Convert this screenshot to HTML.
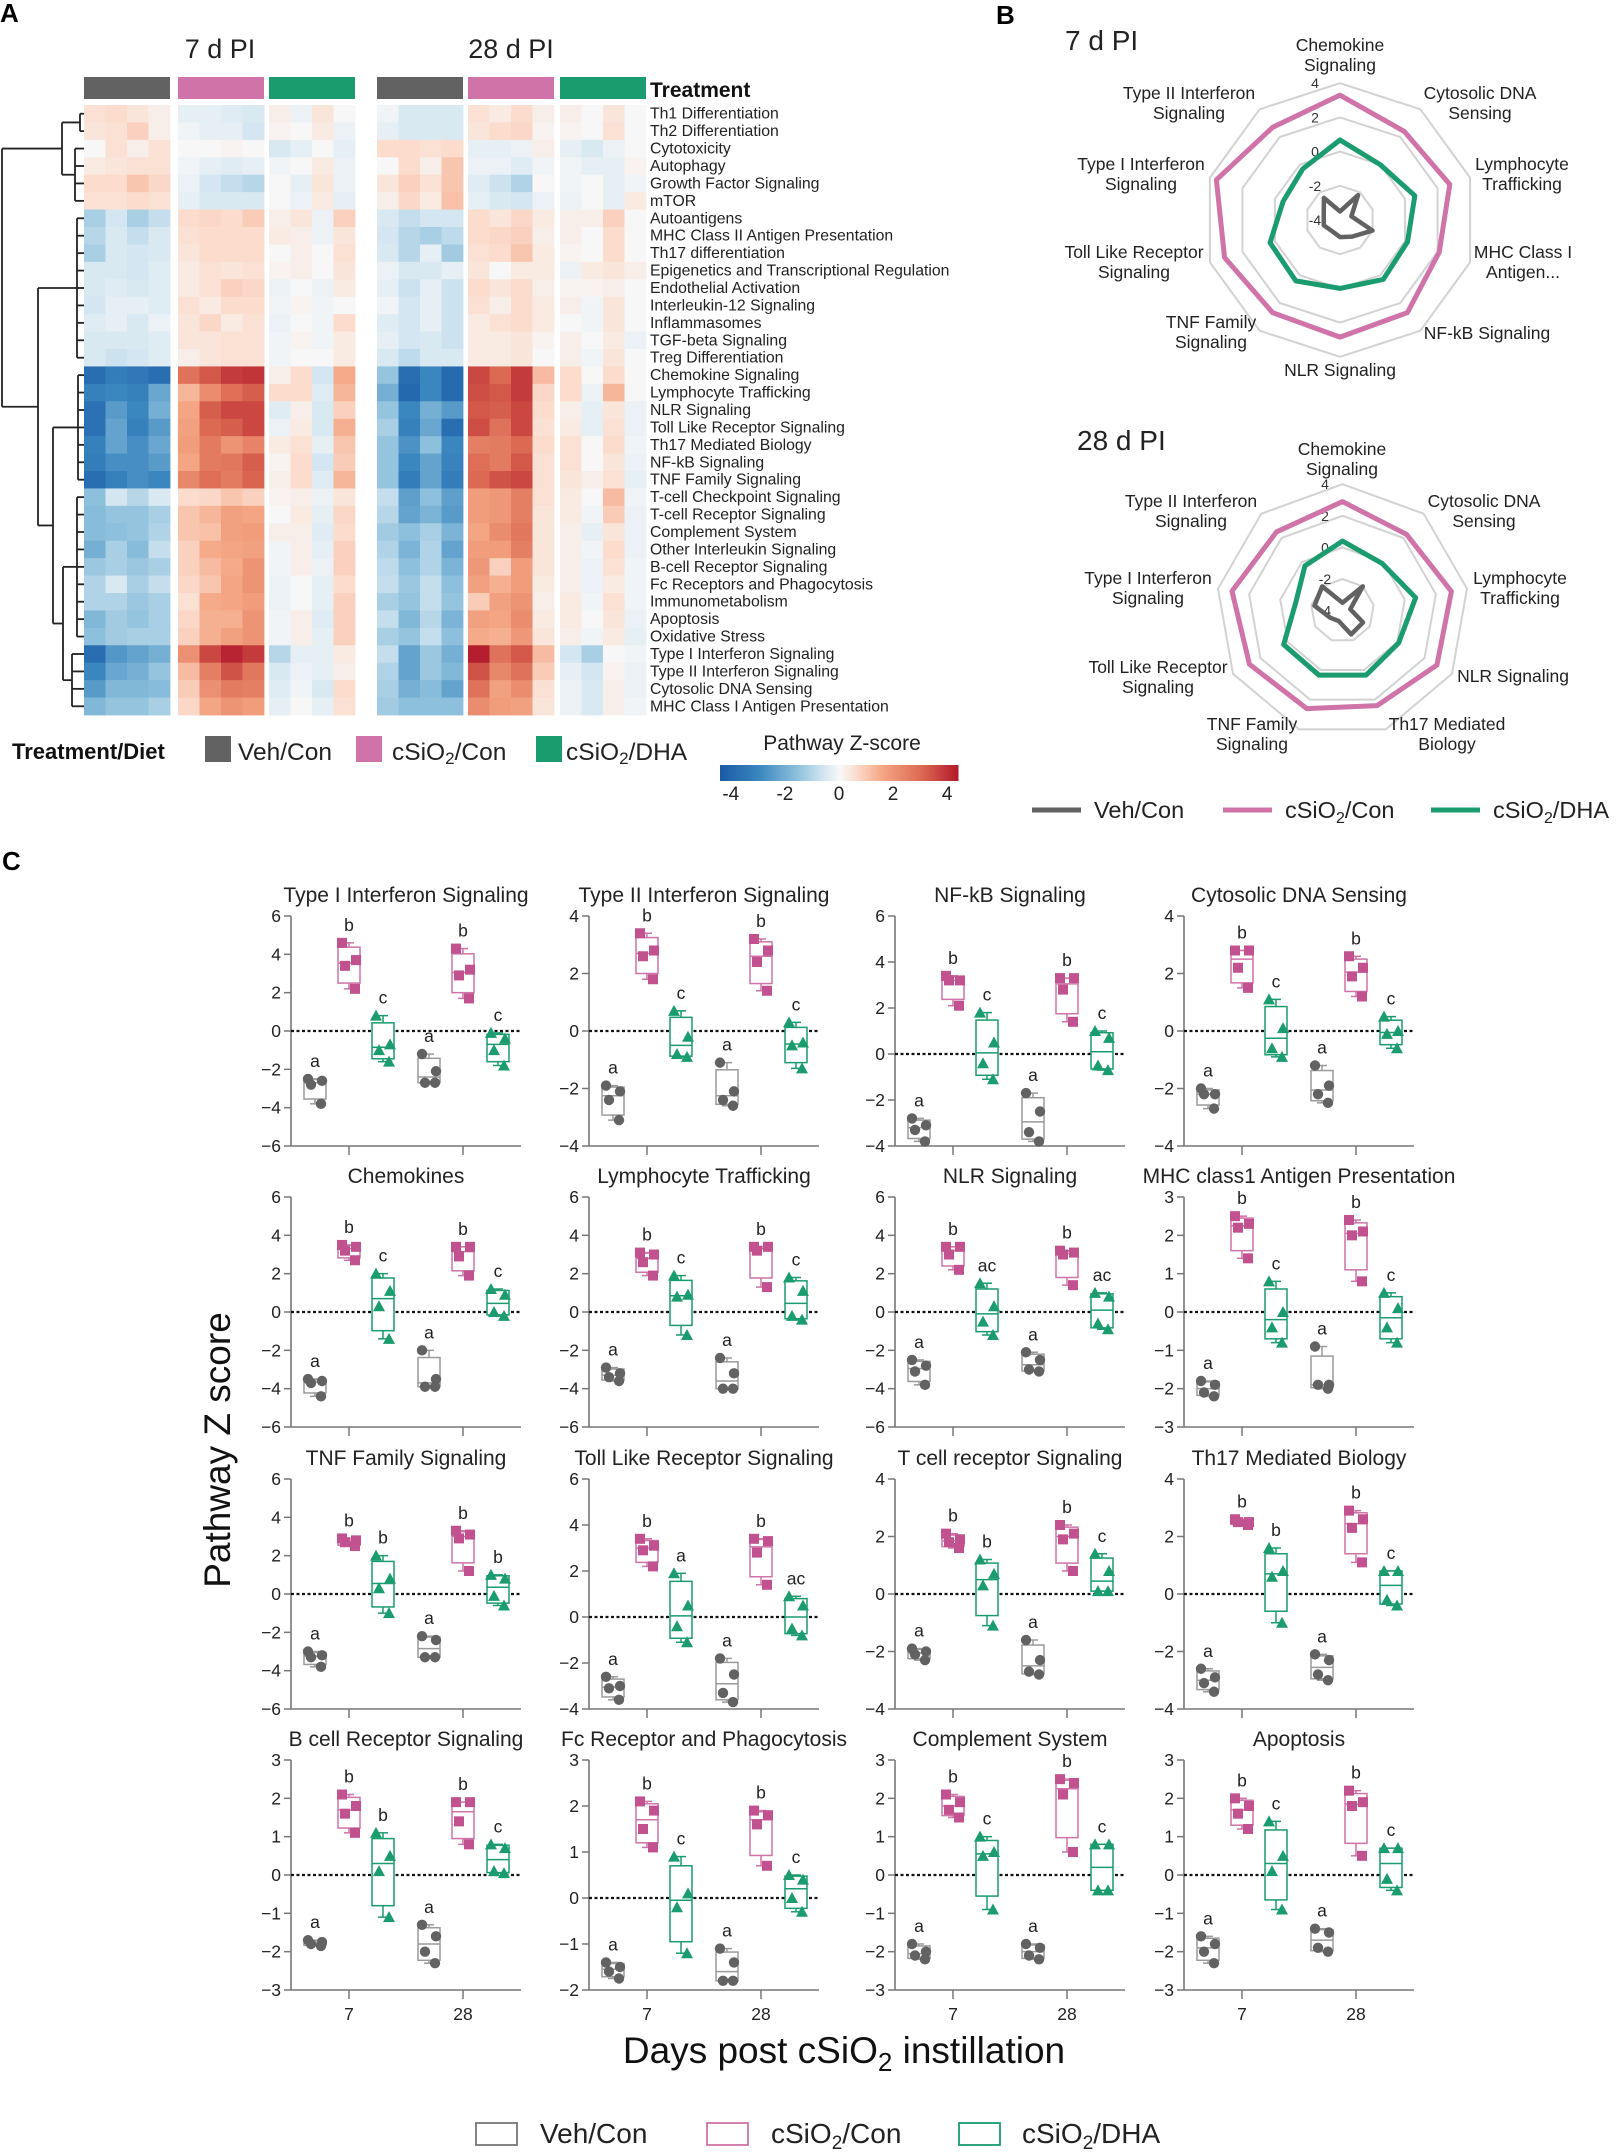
<!DOCTYPE html>
<html><head><meta charset="utf-8">
<style>
html,body{margin:0;padding:0;background:#fff;}
svg{display:block;font-family:"Liberation Sans",Arial,sans-serif;}
</style></head>
<body>
<svg id="fig" width="1621" height="2155" viewBox="0 0 1621 2155" xmlns="http://www.w3.org/2000/svg">
<text x="0" y="22" font-size="26" font-weight="bold">A</text>
<text x="996" y="24" font-size="26" font-weight="bold">B</text>
<text x="2" y="870" font-size="26" font-weight="bold">C</text>
<g id="heat"></g>
<g id="radar"></g>
<g id="boxes"></g>
</svg>
<script>
// ================= HEATMAP DATA =================
const pathways = ["Th1 Differentiation","Th2 Differentiation","Cytotoxicity","Autophagy","Growth Factor Signaling","mTOR","Autoantigens","MHC Class II Antigen Presentation","Th17 differentiation","Epigenetics and Transcriptional Regulation","Endothelial Activation","Interleukin-12 Signaling","Inflammasomes","TGF-beta Signaling","Treg Differentiation","Chemokine Signaling","Lymphocyte Trafficking","NLR Signaling","Toll Like Receptor Signaling","Th17 Mediated Biology","NF-kB Signaling","TNF Family Signaling","T-cell Checkpoint Signaling","T-cell Receptor Signaling","Complement System","Other Interleukin Signaling","B-cell Receptor Signaling","Fc Receptors and Phagocytosis","Immunometabolism","Apoptosis","Oxidative Stress","Type I Interferon Signaling","Type II Interferon Signaling","Cytosolic DNA Sensing","MHC Class I Antigen Presentation"];
const heatGroups = ["Veh/Con 7d","cSiO2/Con 7d","cSiO2/DHA 7d","Veh/Con 28d","cSiO2/Con 28d","cSiO2/DHA 28d"];
const zscores = [
[.5,.6,.4,.2, -.3,-.3,-.4,-.5, .2,-.2,.4,0, -.1,-.5,-.5,-.5, .5,.3,.6,.2, .2,0,.4,0],
[.4,.5,.8,.2, -.1,-.3,-.3,-.6, .1,0,.3,-.2, -.3,-.5,-.5,-.5, .4,.6,.7,.1, .1,0,.5,0],
[0,.5,.2,.5, 0,0,.1,0, -.5,-.3,0,-.3, .6,.6,.5,.6, -.3,-.3,-.2,.2, -.3,-.5,-.2,0],
[.3,.4,.5,.5, -.1,-.3,-.4,-.3, -.1,0,.3,-.2, 0,.6,.2,1, -.2,-.2,-.4,-.1, -.1,-.3,-.3,.1],
[.6,.6,1,.7, -.2,-.6,-.8,-1, 0,-.3,.4,-.2, .4,.8,.5,1, -.4,-.7,-1.1,0, -.1,0,-.3,-.1],
[.5,.5,.6,.5, -.3,-.5,-.5,-.5, 0,-.2,.3,-.3, .2,.7,.3,1.1, -.3,-.5,-.6,-.2, -.2,0,-.3,.3],
[-1.2,-.6,-1.2,-.8, .6,.7,.6,.9, .2,.4,-.2,.8, -.5,-.8,-.6,-.6, .6,.4,.7,.3, .2,.2,.8,0],
[-1,-.5,-.8,-.5, .5,.6,.6,.6, .3,.2,-.2,.4, -.6,-1,-1.2,-.9, .6,.7,.8,.2, .2,0,.6,0],
[-1.2,-.5,-.6,-.5, .4,.6,.6,.6, 0,.2,0,.5, -.5,-1,-.3,-1.3, .5,.6,1,.3, .1,0,.6,0],
[-.5,-.5,-.6,-.4, .3,.5,.4,.5, .1,.2,0,.4, -.2,-.5,-.5,-.3, .4,0,.3,.3, -.2,.3,.4,.2],
[-.5,-.4,-.5,-.4, .3,.5,.8,.7, -.2,0,-.2,.3, -.3,-.7,-.3,-.7, .6,.4,.6,.2, .1,.1,.2,0],
[-.6,-.3,-.3,-.4, .5,.3,.6,.6, -.1,.1,-.1,0, -.1,-.6,-.3,-.7, .5,.2,.6,.3, .2,-.1,.4,0],
[-.4,-.3,-.5,-.2, .4,.7,.3,.5, -.2,0,-.1,.6, -.4,-.6,-.3,-.7, .3,.5,.6,.3, 0,-.1,.4,0],
[-.5,-.5,-.5,-.4, .4,.4,.5,.5, -.1,.1,-.1,.3, -.3,-.6,-.5,-.7, .3,.3,.4,.1, .2,0,.3,-.2],
[-.5,-.7,-.6,-.4, .2,.4,.5,.5, -.1,0,0,.3, -.5,-.9,-.5,-.5, .3,.3,.4,0, .2,-.1,.4,0],
[-3.8,-3.3,-3.5,-3.8, 2.8,3.3,3.8,3.9, .2,.6,-.6,1.5, -1.5,-3.8,-3,-3.9, 3.6,3,3.8,1.2, .6,0,.6,0],
[-3.2,-3,-3.2,-2.2, 1.3,2.2,2.9,3.2, .6,.6,-.4,1.3, -2,-4,-3,-3.9, 3.5,3.3,3.8,.7, .6,-.2,1.3,0],
[-3.7,-2.5,-3,-2, 1.6,3.2,3.6,3.6, -.4,.2,-.5,.8, -1.5,-3,-2,-2.5, 3.3,3.2,3.6,.6, .2,-.3,.4,-.2],
[-3.7,-2.3,-3.2,-2.5, 1.7,3,3.2,3.6, -.2,.3,-.5,1.4, -1.2,-3.2,-2.2,-3.8, 3.5,2.8,3.6,.5, .3,-.3,.5,-.2],
[-3.2,-2.3,-2.8,-2.2, 1.8,2.6,2,2.4, .3,.5,-.3,1, -1.5,-2.7,-1.6,-3, 2.5,2.6,3,.6, .5,0,.6,-.1],
[-3.3,-2.8,-2.8,-2.5, 1.6,2.6,2.7,3.2, .1,.6,-.6,.9, -1.5,-3,-2.3,-3.1, 2.9,2.6,3.3,.5, .5,0,.4,-.2],
[-3.8,-3.2,-2.8,-3, 2.3,2.9,2.6,3.1, .2,.6,-.4,1.3, -1.5,-3.3,-2.3,-3.3, 3,3.4,3.6,.5, .4,.2,.5,-.3],
[-1.6,-.6,-1,-.5, .6,.7,1,.8, .1,.2,-.2,.4, -.8,-2.4,-1.6,-2.4, 1.8,1.9,2.5,.5, .3,0,1.2,-.1],
[-1.7,-1.5,-1.5,-1.2, 1,1.3,1.7,1.6, 0,.3,-.3,.7, -1,-2.3,-1.9,-2.5, 1.8,1.9,2.5,.4, .3,-.1,.9,-.2],
[-1.7,-1.6,-1.5,-1.1, 1,1.1,1.7,1.8, .2,.2,-.4,.6, -1.3,-1.6,-1.2,-1.9, 1.6,2.2,2.7,.4, .2,-.3,.4,-.2],
[-2,-1.2,-1.7,-.8, .8,1.5,1.6,1.7, -.1,.2,-.3,.8, -1.1,-1.9,-1.1,-2.3, 1.8,1.8,2.5,.4, .2,-.1,.6,-.2],
[-1.4,-1.2,-1.4,-1.2, .8,1.2,1.5,2, -.1,.2,-.2,.8, -.9,-1.6,-1.1,-1.9, 1.9,.8,1.8,.4, .2,-.2,.5,-.1],
[-1.1,-.5,-1.2,-.8, .7,1,1.6,2, -.2,0,-.3,.6, -.8,-1.4,-.8,-1.6, 1.7,1.4,1.8,.3, .2,-.2,.3,-.1],
[-1.1,-1.1,-1.4,-1.2, .5,1.5,1.6,1.8, -.2,0,-.3,.8, -1.2,-1.5,-.8,-1.5, .9,1.7,2,.2, .3,-.1,.5,-.1],
[-1.8,-1.3,-1.5,-1.2, .7,1.4,1.4,2, -.1,.2,-.4,.8, -.8,-1.8,-1,-1.9, 1.7,1.6,2.2,.3, .3,0,.4,-.2],
[-1.6,-1.3,-1.2,-1.2, .8,1.4,1.7,2, -.1,.2,-.3,.8, -1.2,-1.5,-.8,-1.6, 1.5,1.4,1.9,.4, .2,-.1,.3,-.3],
[-3.8,-2.6,-2.3,-2, 2.1,3.6,4.2,3.8, -1,-.3,-.3,.3, -.8,-2.3,-1.4,-2, 4.3,2.8,3.3,1.2, -.6,-1.2,0,-.1],
[-3,-2.2,-2,-1.5, 1.2,2.5,3.4,2.7, -.5,-.2,-.3,.2, -1.1,-2.3,-1.4,-1.8, 3.4,2.3,2.8,.9, -.3,-.6,.1,-.2],
[-2.5,-1.8,-1.8,-1.7, .9,2.1,2.6,2.5, -.4,-.1,-.5,.6, -1.2,-2,-1.7,-2.3, 2.8,1.7,2.2,.5, -.2,-.5,.2,-.2],
[-1.8,-1.5,-1.5,-1.2, .7,1.6,2,1.8, -.3,0,-.3,.5, -1.3,-1.6,-1.6,-1.6, 2.2,1.8,1.7,.4, -.2,-.5,.2,-.1]
];
const colorTicks = [-4,-2,0,2,4];

// ================= RADAR DATA =================
const radar7Axes = ["Chemokine\nSignaling","Cytosolic DNA\nSensing","Lymphocyte\nTrafficking","MHC Class I\nAntigen...","NF-kB Signaling","NLR Signaling","TNF Family\nSignaling","Toll Like Receptor\nSignaling","Type I Interferon\nSignaling","Type II Interferon\nSignaling"];
const radar7Veh = [-3.5,-2.2,-3.3,-2.0,-2.8,-3.0,-3.2,-3.0,-3.0,-2.4];
const radar7Con = [3.3,2.4,2.75,2.1,2.7,2.85,2.7,3.1,3.6,2.7];
const radar7Dha = [0.68,0.0,0.6,0.15,0.3,0.0,0.4,0.3,-0.5,-0.3];
const radar28Axes = ["Chemokine\nSignaling","Cytosolic DNA\nSensing","Lymphocyte\nTrafficking","NLR Signaling","Th17 Mediated\nBiology","TNF Family\nSignaling","Toll Like Receptor\nSignaling","Type I Interferon\nSignaling","Type II Interferon\nSignaling"];
const radar28Veh = [-3.5,-2.0,-3.5,-2.5,-2.4,-3.3,-3.1,-2.2,-2.0];
const radar28Con = [2.9,2.3,3.0,2.9,2.4,2.6,2.8,3.1,2.5];
const radar28Dha = [0.4,-0.1,0.7,0.1,0.35,0.35,0.3,-1.0,-0.3];
const radarTicks = [4,2,0,-2,-4];

// ================= BOX PLOT DATA =================
const panelTitles = ["Type I Interferon Signaling","Type II Interferon Signaling","NF-kB Signaling","Cytosolic DNA Sensing","Chemokines","Lymphocyte Trafficking","NLR Signaling","MHC class1 Antigen Presentation","TNF Family Signaling","Toll Like Receptor Signaling","T cell receptor Signaling","Th17 Mediated Biology","B cell Receptor Signaling","Fc Receptor and Phagocytosis","Complement System","Apoptosis"];
const panelYMin = [-6,-4,-4,-4, -6,-6,-6,-3, -6,-4,-4,-4, -3,-2,-3,-3];
const panelYMax = [6,4,6,4, 6,6,6,3, 6,6,4,4, 3,3,3,3];
const panelYStep = [2,2,2,2, 2,2,2,1, 2,2,2,2, 1,1,1,1];
const groupNames = ["Veh/Con 7","cSiO2/Con 7","cSiO2/DHA 7","Veh/Con 28","cSiO2/Con 28","cSiO2/DHA 28"];
const panelLetters = [
["a","b","c","a","b","c"],["a","b","c","a","b","c"],["a","b","c","a","b","c"],["a","b","c","a","b","c"],
["a","b","c","a","b","c"],["a","b","c","a","b","c"],["a","b","ac","a","b","ac"],["a","b","c","a","b","c"],
["a","b","b","a","b","b"],["a","b","a","a","b","ac"],["a","b","b","a","b","c"],["a","b","b","a","b","c"],
["a","b","b","a","b","c"],["a","b","c","a","b","c"],["a","b","c","a","b","c"],["a","b","c","a","b","c"]];
const panelValues = [
[[-2.5,-2.6,-2.8,-3.8],[4.6,3.7,3.4,2.2],[0.8,-0.7,-1,-1.6],[-1.2,-2.1,-2.7,-2.7],[4.3,3.2,2.9,1.7],[-0.1,-0.4,-1,-1.8]],
[[-1.9,-2.1,-2.4,-3.1],[3.4,2.8,2.6,1.8],[0.7,-0.2,-0.8,-0.9],[-1.1,-2.1,-2.4,-2.6],[3.2,2.8,2.4,1.4],[0.3,-0.4,-0.5,-1.3]],
[[-2.8,-3.1,-3.3,-3.8],[3.4,3.2,3.2,2.1],[1.8,0.5,-0.4,-1.1],[-1.7,-2.5,-3.4,-3.8],[3.3,3.3,2.8,1.4],[1,0.7,-0.5,-0.7]],
[[-2,-2.2,-2.2,-2.7],[2.8,2.8,2.2,1.5],[1.1,0.1,-0.6,-0.9],[-1.2,-1.9,-2.2,-2.5],[2.6,2.2,1.9,1.2],[0.5,0,-0.1,-0.6]],
[[-3.5,-3.6,-3.7,-4.4],[3.5,3.4,3.2,2.7],[2,1.1,0.3,-1.4],[-2,-3.5,-3.9,-3.9],[3.4,3.4,2.9,1.9],[1.2,0.9,0,-0.2]],
[[-2.9,-3.2,-3.4,-3.6],[3.1,3,2.6,1.9],[1.9,0.9,0.8,-1.2],[-2.4,-3.2,-4,-4],[3.4,3.4,3.2,1.3],[1.8,1.1,-0.2,-0.4]],
[[-2.5,-2.8,-3.1,-3.8],[3.4,3.4,3,2.2],[1.5,0.3,-0.5,-1.2],[-2.1,-2.5,-3,-3.1],[3.2,3.1,3,1.4],[1,0.8,-0.6,-0.9]],
[[-1.8,-1.9,-2.1,-2.2],[2.5,2.3,2.2,1.4],[0.8,0,-0.4,-0.8],[-0.9,-1.9,-1.9,-2],[2.4,2.1,2,0.8],[0.5,0.1,-0.4,-0.8]],
[[-3,-3.2,-3.3,-3.8],[2.9,2.8,2.7,2.5],[2,0.8,0.3,-1],[-2.2,-2.4,-3.3,-3.3],[3.3,3.1,2.9,1.2],[1,0.8,-0.1,-0.6]],
[[-2.6,-3,-3.1,-3.6],[3.4,3.1,2.9,2.2],[1.9,0.5,-0.4,-1.1],[-1.8,-2.5,-3.3,-3.7],[3.4,3.3,2.8,1.4],[0.9,0.5,-0.5,-0.8]],
[[-1.9,-2,-2.1,-2.3],[2.1,1.9,1.8,1.6],[1.2,0.7,0.3,-1.1],[-1.6,-2.3,-2.7,-2.8],[2.4,2.1,1.9,0.8],[1.4,0.8,0.1,0.1]],
[[-2.6,-2.9,-3.1,-3.4],[2.6,2.5,2.5,2.4],[1.6,0.8,0.6,-1],[-2.1,-2.3,-2.8,-3],[2.9,2.6,2.3,1.1],[0.8,0.8,-0.2,-0.4]],
[[-1.7,-1.75,-1.8,-1.85],[2.1,1.8,1.6,1.1],[1.1,0.5,0.1,-1.1],[-1.3,-1.6,-2,-2.3],[1.9,1.9,1.4,0.8],[0.8,0.7,0.1,0.05]],
[[-1.4,-1.5,-1.6,-1.75],[2.1,1.9,1.5,1.1],[0.9,0.1,-0.2,-1.2],[-1.1,-1.4,-1.8,-1.8],[1.9,1.8,1.6,0.7],[0.5,0.4,0,-0.3]],
[[-1.8,-2,-2.1,-2.2],[2.1,1.9,1.7,1.5],[1,0.6,0.5,-0.9],[-1.8,-1.9,-2.1,-2.2],[2.5,2.4,2.1,0.6],[0.8,0.8,-0.4,-0.4]],
[[-1.6,-1.8,-2,-2.3],[2,1.8,1.6,1.2],[1.4,0.5,0.1,-0.9],[-1.4,-1.5,-1.9,-2],[2.2,1.9,1.8,0.5],[0.7,0.7,-0.1,-0.4]]
];
const xTickLabels = ["7","28"];

// ================= HELPERS =================
const NS = "http://www.w3.org/2000/svg";
function mk(parent, tag, attrs, text){
  const e = document.createElementNS(NS, tag);
  for (const k in attrs) e.setAttribute(k, attrs[k]);
  if (text !== undefined) e.textContent = text;
  parent.appendChild(e);
  return e;
}
function lerpColor(a,b,t){
  const pa=[parseInt(a.slice(1,3),16),parseInt(a.slice(3,5),16),parseInt(a.slice(5,7),16)];
  const pb=[parseInt(b.slice(1,3),16),parseInt(b.slice(3,5),16),parseInt(b.slice(5,7),16)];
  return "rgb("+pa.map((v,i)=>Math.round(v+(pb[i]-v)*t)).join(",")+")";
}
const cStops = [[-4.4,"#1b5ca6"],[-3,"#3a86bf"],[-1.6,"#8dc0dc"],[-0.6,"#d3e6f1"],[0,"#f7f7f7"],[0.6,"#fbdccd"],[1.6,"#f4a583"],[3,"#dc6a53"],[4.4,"#b2182b"]];
function zColor(v){
  if (v<=cStops[0][0]) return cStops[0][1];
  for (let i=1;i<cStops.length;i++){
    if (v<=cStops[i][0]){const t=(v-cStops[i-1][0])/(cStops[i][0]-cStops[i-1][0]);return lerpColor(cStops[i-1][1],cStops[i][1],t);}
  }
  return cStops[cStops.length-1][1];
}
const GRAY="#626262", PINK="#cf73a8", GREEN="#1a9c6e";
const PINKD="#c2528f";

// ================= HEATMAP =================
(function(){
  const g = document.getElementById("heat");
  const groupX = [84,178,269,377,468,560];
  const blockW = 86, rowTop = 105, rowH = (715-105)/pathways.length;
  const barCols = [GRAY,PINK,GREEN,GRAY,PINK,GREEN];
  const t1 = mk(g,"text",{x:220,y:58,"font-size":27,"text-anchor":"middle",fill:"#222"},"7 d PI");
  
  
  const t2 = mk(g,"text",{x:511,y:58,"font-size":27,"text-anchor":"middle",fill:"#222"},"28 d PI");
  
  
  heatGroups.forEach((name,gi)=>{
    const r = mk(g,"rect",{x:groupX[gi],y:77,width:blockW,height:22,fill:barCols[gi]});
    
    
  });
  const tt = mk(g,"text",{x:650,y:97,"font-size":21,"font-weight":"bold",fill:"#111"},"Treatment");
  
  
  const cw = blockW/4;
  zscores.forEach((row,ri)=>{
    row.forEach((v,ci)=>{
      const gi = Math.floor(ci/4), k = ci%4;
      const c = mk(g,"rect",{x:groupX[gi]+k*cw,y:rowTop+ri*rowH,width:cw+0.4,height:rowH+0.4,fill:zColor(v)});
      
      
    });
    const l = mk(g,"text",{x:650,y:rowTop+ri*rowH+rowH/2+5,"font-size":15.8,fill:"#222"},pathways[ri]);
    
    
  });
  const rc = i => rowTop + i*rowH + rowH/2;
  const dg = mk(g,"g",{stroke:"#222","stroke-width":1.8,fill:"none"});
  
  
  function leafGroup(a,b,x){
    for(let i=a;i<=b;i++) mk(dg,"line",{x1:x,y1:rc(i),x2:84,y2:rc(i)});
    mk(dg,"line",{x1:x,y1:rc(a),x2:x,y2:rc(b)});
    return {x:x,y:(rc(a)+rc(b))/2};
  }
  function join(n1,n2,x){
    mk(dg,"line",{x1:x,y1:n1.y,x2:n1.x,y2:n1.y});
    mk(dg,"line",{x1:x,y1:n2.y,x2:n2.x,y2:n2.y});
    mk(dg,"line",{x1:x,y1:n1.y,x2:x,y2:n2.y});
    return {x:x,y:(n1.y+n2.y)/2};
  }
  const A = join(leafGroup(0,1,80),leafGroup(2,5,75),62);
  const B1 = leafGroup(6,14,77);
  const C1 = leafGroup(15,21,78);
  const C2 = join(leafGroup(22,30,77),leafGroup(31,34,72),63);
  const C = join(C1,C2,53);
  const B = join(B1,C,38);
  join(A,B,2);
  const lg = mk(g,"g",{});
  
  
  mk(lg,"text",{x:12,y:759,"font-size":22,"font-weight":"bold",fill:"#111"},"Treatment/Diet");
  const items=[[205,GRAY,238,"Veh/Con"],[356,PINK,392,"cSiO"],[536,GREEN,566,"cSiO"]];
  items.forEach((it,i)=>{
    const r=mk(lg,"rect",{x:it[0],y:736,width:26,height:26,fill:it[1]});
    
    
    const t=mk(lg,"text",{x:it[2],y:760,"font-size":24.5,fill:"#222"});
    
    
    if(i===0){t.textContent="Veh/Con";}
    else{
      t.appendChild(document.createTextNode("cSiO"));
      mk(t,"tspan",{"font-size":17,dy:4},"2");
      mk(t,"tspan",{dy:-4},i===1?"/Con":"/DHA");
    }
  });
  const cb = mk(g,"g",{});
  
  
  mk(cb,"text",{x:842,y:750,"font-size":21,"text-anchor":"middle",fill:"#222"},"Pathway Z-score");
  const x0=720,x1=958,vmin=-4.4,vmax=4.4;
  const cx=v=>x0+(v-vmin)/(vmax-vmin)*(x1-x0);
  for(let i=0;i<120;i++){
    const v=vmin+(vmax-vmin)*i/120;
    mk(cb,"rect",{x:cx(v),y:765,width:(x1-x0)/120+0.5,height:16,fill:zColor(v)});
  }
  colorTicks.forEach(v=>{
    const t=mk(cb,"text",{x:cx(v),y:800,"font-size":19,"text-anchor":"middle",fill:"#222"},String(v));
    
    
  });
})();

// ================= RADAR =================
(function(){
  const g = document.getElementById("radar");
  function drawRadar(cfg){
    const rg = mk(g,"g",{});
    
    
    const n = cfg.axes.length;
    const r = v => (v+4)*cfg.unit;
    const pt = (i,v) => {const a=i*2*Math.PI/n; return [cfg.cx+r(v)*Math.sin(a), cfg.cy-r(v)*Math.cos(a)];};
    [4,2,0,-2].forEach(v=>{
      const p=[];for(let i=0;i<n;i++)p.push(pt(i,v).join(","));
      const ring=mk(rg,"polygon",{points:p.join(" "),fill:"none",stroke:"#d2d2d2","stroke-width":2});
      
      
    });
    radarTicks.forEach(v=>{
      const t=mk(rg,"text",{x:cfg.tickX,y:cfg.cy-r(v)+5,"font-size":14,"text-anchor":"middle",fill:"#333"},String(v));
      
      
    });
    const series=[[cfg.veh,GRAY,4.5,"radar-series-veh"],[cfg.dha,GREEN,5,"radar-series-dha"],[cfg.con,PINK,5,"radar-series-con"]];
    series.forEach(s=>{
      const p=s[0].map((v,i)=>pt(i,v).join(","));
      const pl=mk(rg,"polygon",{points:p.join(" "),fill:"none",stroke:s[1],"stroke-width":s[2],"stroke-linejoin":"round"});
      
      
    });
    cfg.axes.forEach((lab,i)=>{
      const pos=cfg.labelPos[i];
      const t=mk(rg,"text",{x:pos[0],y:pos[1],"font-size":17.5,"text-anchor":"middle",fill:"#222"});
      
      
      lab.split("\n").forEach((ln,k)=>{mk(t,"tspan",{x:pos[0],dy:k===0?0:20},ln);});
    });
    const tl=mk(rg,"text",{x:cfg.titleX,y:cfg.titleY,"font-size":28,fill:"#222"},cfg.title);
    
    
  }
  drawRadar({name:"radar-7d",axes:radar7Axes,veh:radar7Veh,con:radar7Con,dha:radar7Dha,cx:1340,cy:220,unit:17.1,tickX:1315,
    title:"7 d PI",titleX:1065,titleY:50,
    labelPos:[[1340,51],[1480,99],[1522,170],[1523,258],[1487,339],[1340,376],[1211,328],[1134,258],[1141,170],[1189,99]]});
  drawRadar({name:"radar-28d",axes:radar28Axes,veh:radar28Veh,con:radar28Con,dha:radar28Dha,cx:1342.5,cy:610.6,unit:15.8,tickX:1325,
    title:"28 d PI",titleX:1077,titleY:450,
    labelPos:[[1342,455],[1484,507],[1520,584],[1513,682],[1447,730],[1252,730],[1158,673],[1148,584],[1191,507]]});
  const lg=mk(g,"g",{});
  
  
  const it=[[1032,GRAY,1094,0],[1223,PINK,1285,1],[1431,GREEN,1493,2]];
  it.forEach(x=>{
    mk(lg,"line",{x1:x[0],y1:810,x2:x[0]+49,y2:810,stroke:x[1],"stroke-width":5});
    const t=mk(lg,"text",{x:x[2],y:818,"font-size":23.5,fill:"#222"});
    
    
    if(x[3]===0)t.textContent="Veh/Con";
    else{t.appendChild(document.createTextNode("cSiO"));mk(t,"tspan",{"font-size":16,dy:5},"2");mk(t,"tspan",{dy:-5},x[3]===1?"/Con":"/DHA");}
  });
})();

// ================= BOX PLOTS =================
(function(){
  const g = document.getElementById("boxes");
  const axisX = [291,589,895,1184];
  const rowTopY = [916,1197,1479,1760];
  const plotH = 230, plotW = 230;
  const groupOff = [24,58,92,138,172,207];
  const jitter = [-7,7,-4,6];
  const boxCols = ["#9a9a9a",PINK,GREEN,"#9a9a9a",PINK,GREEN];
  const ptCols = [GRAY,PINKD,GREEN,GRAY,PINKD,GREEN];
  function quart(arr,q){
    const s=[...arr].sort((a,b)=>a-b);const n=s.length;
    const pos=q*(n+1)-1;
    if(pos<=0)return s[0]; if(pos>=n-1)return s[n-1];
    const lo=Math.floor(pos);return s[lo]+(s[lo+1]-s[lo])*(pos-lo);
  }
  panelTitles.forEach((title,pi)=>{
    const col=pi%4,row=Math.floor(pi/4);
    const ax=axisX[col],top=rowTopY[row],bot=top+plotH;
    const ymin=panelYMin[pi],ymax=panelYMax[pi];
    const y=v=>bot-(v-ymin)/(ymax-ymin)*plotH;
    const pg=mk(g,"g",{});
    
    
    const tt=mk(pg,"text",{x:ax+115,y:top-14,"font-size":21,"text-anchor":"middle",fill:"#222"},title);
    
    
    mk(pg,"line",{x1:ax,y1:top,x2:ax,y2:bot,stroke:"#777","stroke-width":1.6});
    mk(pg,"line",{x1:ax,y1:bot,x2:ax+plotW,y2:bot,stroke:"#777","stroke-width":1.6});
    for(let v=ymin;v<=ymax+1e-9;v+=panelYStep[pi]){
      mk(pg,"line",{x1:ax-7,y1:y(v),x2:ax,y2:y(v),stroke:"#777","stroke-width":1.5});
      const t=mk(pg,"text",{x:ax-10,y:y(v)+6,"font-size":17.5,"text-anchor":"end",fill:"#222"},v<0?"\u2212"+Math.abs(v):String(v));
      
      
    }
    [58,172].forEach((o,k)=>{
      mk(pg,"line",{x1:ax+o,y1:bot,x2:ax+o,y2:bot+9,stroke:"#777","stroke-width":1.5});
      if(row===3){
        const t=mk(pg,"text",{x:ax+o,y:2020,"font-size":17.5,"text-anchor":"middle",fill:"#222"},xTickLabels[k]);
        
        
      }
    });
    const zl=mk(pg,"line",{x1:ax,y1:y(0),x2:ax+plotW,y2:y(0),stroke:"#111","stroke-width":2.2,"stroke-dasharray":"3,2.5"});
    
    
    panelValues[pi].forEach((vals,gi)=>{
      const gx=ax+groupOff[gi];
      const mn=Math.min(...vals),mx=Math.max(...vals);
      const q1=quart(vals,0.25),q3=quart(vals,0.75),md=quart(vals,0.5);
      const bg=mk(pg,"g",{stroke:boxCols[gi],"stroke-width":1.5,fill:"none"});
      
      
      mk(bg,"line",{x1:gx,y1:y(mx),x2:gx,y2:y(q3)});
      mk(bg,"line",{x1:gx,y1:y(mn),x2:gx,y2:y(q1)});
      mk(bg,"line",{x1:gx-5,y1:y(mx),x2:gx+5,y2:y(mx)});
      mk(bg,"line",{x1:gx-5,y1:y(mn),x2:gx+5,y2:y(mn)});
      mk(bg,"rect",{x:gx-11,y:y(q3),width:22,height:Math.max(1,y(q1)-y(q3)),fill:"#fff"});
      mk(bg,"line",{x1:gx-11,y1:y(md),x2:gx+11,y2:y(md)});
      vals.forEach((v,k)=>{
        const px=gx+jitter[k],py=y(v);let m;
        if(gi%3===0) m=mk(pg,"circle",{cx:px,cy:py,r:5.2,fill:ptCols[gi]});
        else if(gi%3===1) m=mk(pg,"rect",{x:px-5,y:py-5,width:10,height:10,fill:ptCols[gi]});
        else m=mk(pg,"polygon",{points:(px)+","+(py-6)+" "+(px-6)+","+(py+5)+" "+(px+6)+","+(py+5),fill:ptCols[gi]});
        
        
      });
      const lt=mk(pg,"text",{x:gx,y:y(mx)-12,"font-size":17.5,"text-anchor":"middle",fill:"#222"},panelLetters[pi][gi]);
      
      
    });
  });
  const yt=mk(g,"text",{x:0,y:0,"font-size":37,"text-anchor":"middle",fill:"#111",transform:"translate(230,1450) rotate(-90)"},"Pathway Z score");
  
  
  const xt=mk(g,"text",{x:844,y:2063,"font-size":37,"text-anchor":"middle",fill:"#111"});
  
  
  xt.appendChild(document.createTextNode("Days post cSiO"));
  mk(xt,"tspan",{"font-size":26,dy:8},"2");
  mk(xt,"tspan",{dy:-8}," instillation");
  const lg=mk(g,"g",{});
  
  
  [[476,"#777",540,0],[707,PINK,771,1],[959,GREEN,1022,2]].forEach(it=>{
    mk(lg,"rect",{x:it[0],y:2123,width:41,height:22,fill:"none",stroke:it[1],"stroke-width":1.8});
    const t=mk(lg,"text",{x:it[2],y:2143,"font-size":28,fill:"#222"});
    
    
    if(it[3]===0)t.textContent="Veh/Con";
    else{t.appendChild(document.createTextNode("cSiO"));mk(t,"tspan",{"font-size":19,dy:6},"2");mk(t,"tspan",{dy:-6},it[3]===1?"/Con":"/DHA");}
  });
})();
</script>
</body></html>
